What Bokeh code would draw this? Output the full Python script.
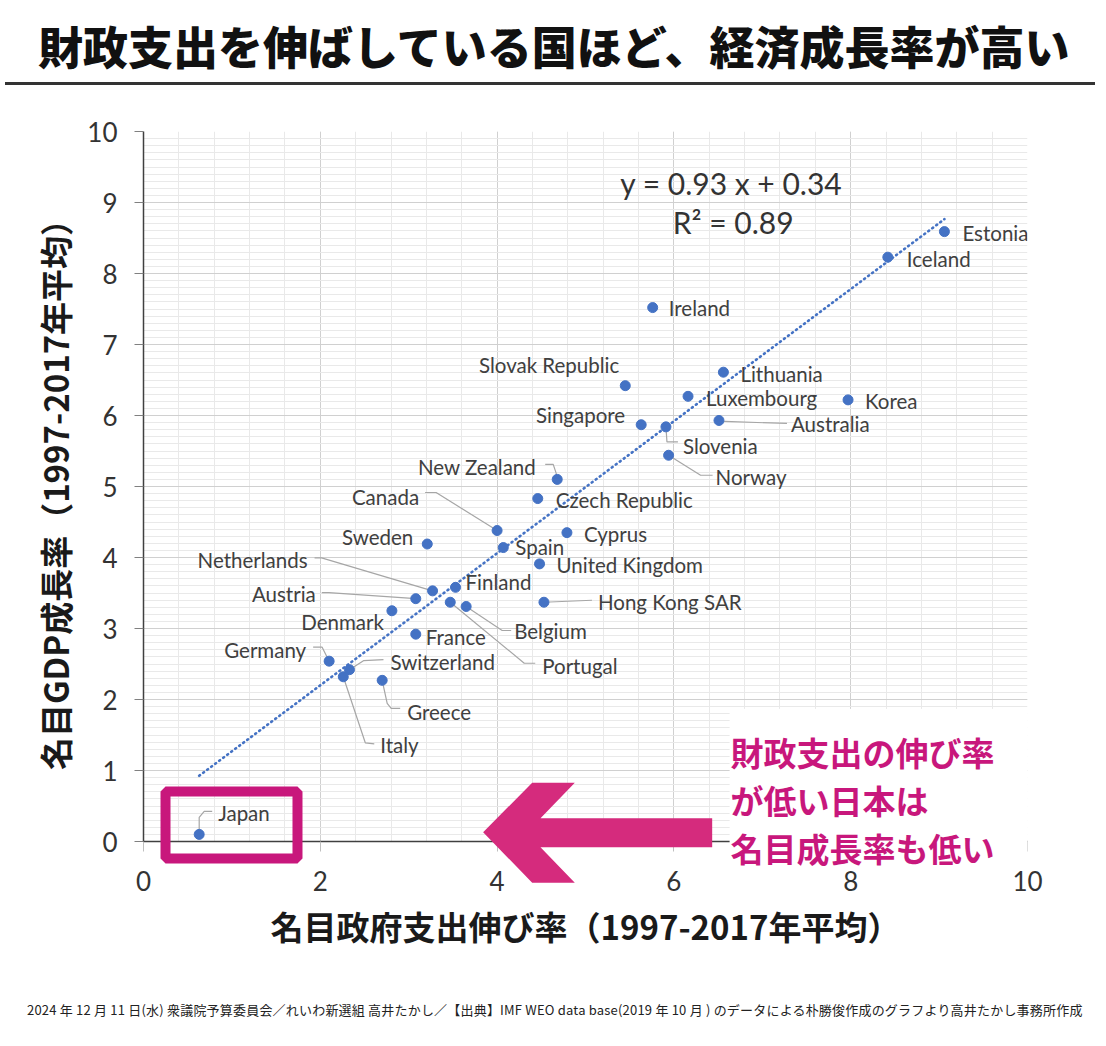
from bokeh.plotting import figure
from bokeh.models import (Range1d, SingleIntervalTicker, Label, BoxAnnotation,
                          PolyAnnotation, ColumnDataSource, Div)
from bokeh.layouts import column
from bokeh.core.properties import value
from bokeh.embed import file_html
from bokeh.resources import INLINE

# --- data (1997-2017 averages, %) ---
countries = ["Estonia", "Iceland", "Ireland", "Lithuania", "Slovak Republic",
             "Luxembourg", "Korea", "Australia", "Singapore", "Slovenia",
             "Norway", "New Zealand", "Czech Republic", "Canada", "Sweden",
             "Spain", "Cyprus", "United Kingdom", "Netherlands", "Finland",
             "Austria", "Hong Kong SAR", "Denmark", "Belgium", "France",
             "Portugal", "Germany", "Switzerland", "Greece", "Italy", "Japan"]
spending_growth = [9.06, 8.42, 5.76, 6.56, 5.45, 6.16, 7.97, 6.51, 5.63, 5.91,
                   5.94, 4.68, 4.46, 4.00, 3.21, 4.07, 4.79, 4.48, 3.27, 3.53,
                   3.08, 4.53, 2.81, 3.65, 3.08, 3.47, 2.10, 2.33, 2.70, 2.26, 0.63]
gdp_growth = [8.59, 8.23, 7.52, 6.61, 6.42, 6.27, 6.22, 5.93, 5.87, 5.84,
              5.44, 5.10, 4.83, 4.38, 4.19, 4.14, 4.35, 3.91, 3.53, 3.58,
              3.42, 3.37, 3.25, 3.31, 2.92, 3.37, 2.54, 2.42, 2.27, 2.32, 0.10]
slope, intercept, r_squared = 0.93, 0.34, 0.89

title_text = "財政支出を伸ばしている国ほど、経済成長率が高い"
x_title = "名目政府支出伸び率（1997-2017年平均）"
y_title = "名目GDP成長率（1997-2017年平均）"
note_lines = ["財政支出の伸び率", "が低い日本は", "名目成長率も低い"]
footer_text = ("2024 年 12 月 11 日(水) 衆議院予算委員会／れいわ新選組 高井たかし／"
               "【出典】IMF WEO data base(2019 年 10 月 ) のデータによる朴勝俊作成の"
               "グラフより高井たかし事務所作成")

# label placement: pixel offset from the dot, alignment, leader line (pixel offsets)
label_layout = {
    "Estonia": (18, 1, "left", None),
    "Iceland": (19, 2, "left", None),
    "Ireland": (16, 0, "left", None),
    "Lithuania": (17, 2, "left", None),
    "Slovak Republic": (-6, -21, "right", None),
    "Luxembourg": (18, 2, "left", None),
    "Korea": (17, 1, "left", None),
    "Australia": (72, 4, "left", [(6, 1), (68, 3)]),
    "Singapore": (-16, -10, "right", None),
    "Slovenia": (17, 19, "left", [(1, 15), (12, 15)]),
    "Norway": (47, 22, "left", [(32, 20), (44, 20)]),
    "New Zealand": (-21, -12, "right", [(-1, -6), (-4, -15), (-12, -15)]),
    "Czech Republic": (18, 1, "left", None),
    "Canada": (-78, -34, "right", [(-61, -38), (-72, -38)]),
    "Sweden": (-14, -7, "right", None),
    "Spain": (12, -1, "left", None),
    "Cyprus": (17, 1, "left", None),
    "United Kingdom": (17, 1, "left", None),
    "Netherlands": (-125, -31, "right", [(-111, -33), (-118, -33)]),
    "Finland": (10, -5, "left", None),
    "Austria": (-100, -5, "right", [(-87, -6), (-94, -6)]),
    "Hong Kong SAR": (54, 0, "left", [(48, -2)]),
    "Denmark": (-8, 11, "right", None),
    "Belgium": (48, 25, "left", [(36, 24), (45, 24)]),
    "France": (10, 3, "left", None),
    "Portugal": (92, 64, "left", [(74, 61), (85, 61)]),
    "Germany": (-23, -11, "right", [(-2, -4), (-7, -14), (-16, -14)]),
    "Switzerland": (41, -8, "left", [(14, -9), (34, -10)]),
    "Greece": (25, 32, "left", [(5, 23), (9, 28), (18, 28)]),
    "Italy": (37, 68, "left", [(22, 66), (31, 67)]),
    "Japan": (19, -21, "left", [(0, -17), (5, -23), (13, -23)]),
}

BLUE = "#4472C4"
PINK = "#C8177C"
ARROW = "#D52B7D"
W = 1090
FW, FH = 884, 710
PX = FW / 10.0
PY = FH / 10.0
TOP, BOTTOM = 41, 130

# ---------------- header ----------------
head = Div(text=title_text, width=W, height=80, styles={
    "font-family": "'Noto Sans CJK JP'", "font-size": "45px", "font-weight": "900",
    "color": "#111111", "padding-left": "33px", "padding-top": "1px",
    "line-height": "80px", "white-space": "nowrap", "overflow": "hidden",
    "border-bottom": "3px solid #333333"})

# ---------------- main scatter ----------------
p = figure(frame_width=FW, frame_height=FH, x_range=Range1d(0, 10), y_range=Range1d(0, 10),
           toolbar_location=None, output_backend="svg",
           min_border_left=143, min_border_right=63, min_border_top=TOP,
           min_border_bottom=BOTTOM)
p.outline_line_color = None

p.xaxis.ticker = SingleIntervalTicker(interval=2, num_minor_ticks=5)
p.yaxis.ticker = SingleIntervalTicker(interval=1, num_minor_ticks=10)
for g in (p.xgrid, p.ygrid):
    g.grid_line_color = "#D0D0D0"
    g.minor_grid_line_color = "#E9E9E9"

for ax in (p.xaxis, p.yaxis):
    ax.minor_tick_line_color = None
    ax.major_tick_in = 0
    ax.axis_line_color = "#404040"
    ax.axis_line_width = 1.5
    ax.major_label_text_font = "Lato"
    ax.major_label_text_font_size = "26px"
    ax.major_label_text_color = "#333333"
    ax.axis_label_text_font = "Noto Sans CJK JP"
    ax.axis_label_text_font_style = "bold"
    ax.axis_label_text_color = "#1A1A1A"

p.xaxis.major_tick_out = 10
p.xaxis.major_tick_line_color = "#BFBFBF"
p.xaxis.major_label_standoff = 19
p.xaxis.axis_label = x_title
p.xaxis.axis_label_standoff = 8
p.xaxis.axis_label_text_font_size = "33px"
p.yaxis.major_tick_out = 9
p.yaxis.major_tick_line_color = "#808080"
p.yaxis.major_label_standoff = 17
p.yaxis.axis_label = y_title
p.yaxis.axis_label_standoff = 5
p.yaxis.axis_label_text_font_size = "33px"

# trend line
tx = [min(spending_growth), max(spending_growth)]
ty = [slope * v + intercept for v in tx]
p.line(tx, ty, line_color=BLUE, line_width=2.6, line_dash="1 4", line_cap="round")

# leaders, labels
lx, ly, lt, dxs, dys, aligns = [], [], [], [], [], []
leader_xs, leader_ys = [], []
for name, xv, yv in zip(countries, spending_growth, gdp_growth):
    dx, dy, al, lead = label_layout[name]
    lx.append(xv); ly.append(yv); lt.append(name)
    dxs.append(dx); dys.append(dy); aligns.append(al)
    if lead:
        pts = [(0, 0)] + lead
        leader_xs.append([xv + a / PX for a, b in pts])
        leader_ys.append([yv - b / PY for a, b in pts])

p.multi_line(leader_xs, leader_ys, line_color="#A6A6A6", line_width=1.2)

src = ColumnDataSource(dict(x=lx, y=ly, text=lt, dx=dxs, dy=dys, align=aligns))
p.text(x="x", y="y", text="text", x_offset="dx", y_offset="dy", text_align="align",
       source=src, text_font=value("Lato"), text_font_size="20.5px",
       text_color="#404040", text_baseline="middle")

p.scatter(spending_growth, gdp_growth, size=10, fill_color=BLUE, line_color=BLUE)

# regression text
p.add_layout(Label(x=6.65, y=9.27, text="y = %.2f x + %.2f" % (slope, intercept),
                   text_font="Lato", text_font_size="30px", text_color="#333333",
                   text_align="center", text_baseline="middle"))
p.add_layout(Label(x=6.67, y=8.72, text="R² = %.2f" % r_squared,
                   text_font="Lato", text_font_size="30px", text_color="#333333",
                   text_align="center", text_baseline="middle"))

# ---------------- callout layer, laid over the lower part of the chart ----------------
OV_LOW = -0.62
OV_H = 177
OV_HIGH = OV_LOW + OV_H / PY
ov = figure(frame_width=FW, frame_height=OV_H, x_range=Range1d(0, 10),
            y_range=Range1d(OV_LOW, OV_HIGH), toolbar_location=None,
            output_backend="svg", x_axis_location=None, y_axis_location=None,
            min_border_left=143, min_border_right=63, min_border_top=0,
            min_border_bottom=0,
            margin=(-int(round(BOTTOM + OV_HIGH * PY)), 0, 0, 0))
ov.grid.visible = False
ov.outline_line_color = None
ov.background_fill_alpha = 0
ov.border_fill_alpha = 0

ov.add_layout(BoxAnnotation(left=6.63, right=10.2, bottom=-0.33, top=1.87,
                            fill_color="white", fill_alpha=1.0, line_color=None))
for i, line in enumerate(note_lines):
    ov.add_layout(Label(x=6.64, y=1.254 - i * 0.67, text=line,
                        text_font="Noto Sans CJK JP", text_font_style="bold",
                        text_font_size="33px", text_color=PINK,
                        text_baseline="middle"))
ov.add_layout(PolyAnnotation(
    xs=[3.842, 4.397, 4.879, 4.491, 6.433, 6.433, 4.491, 4.879, 4.397],
    ys=[0.131, 0.827, 0.827, 0.328, 0.328, -0.080, -0.080, -0.582, -0.582],
    fill_color=ARROW, fill_alpha=1.0, line_color=None))
ov.add_layout(BoxAnnotation(left=0.249, right=1.742, bottom=-0.239, top=0.704,
                            fill_alpha=0, line_color=PINK, line_alpha=1.0,
                            line_width=10))

# ---------------- footer ----------------
foot = Div(text=footer_text, width=W, height=20, margin=(117, 0, 0, 0), styles={
    "font-family": "'Noto Sans CJK JP'", "font-size": "13px", "color": "#222222",
    "letter-spacing": "0.2px", "padding-left": "27px", "line-height": "16px",
    "white-space": "nowrap"})

layout = column(head, p, ov, foot)
open("out.html", "w").write(file_html(layout, INLINE))
